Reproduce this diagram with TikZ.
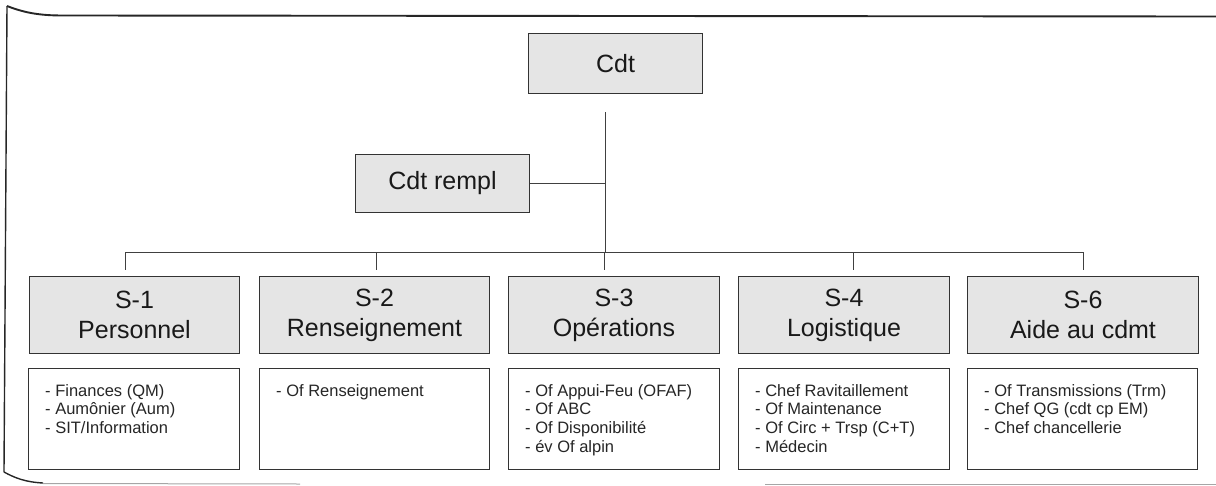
\documentclass[tikz,border=0pt]{standalone}
\usepackage{fontspec}
\setmainfont{Liberation Sans}
\begin{document}
\begin{tikzpicture}[x=1pt,y=-1pt,
  hdr/.style={draw=black!80, line width=1pt, fill=black!10, anchor=north west, inner sep=0pt, align=center, font=\fontsize{25}{30}\selectfont, text=black!90},
  subbox/.style={draw=black!80, line width=1pt, fill=white, anchor=north west, inner sep=0pt},
  subtext/.style={anchor=north west, inner sep=0pt, align=left, font=\fontsize{16.5}{18.7}\selectfont, text=black!85},
  conn/.style={draw=black!75, line width=0.8pt},
  frame/.style={draw=black!85, line width=1.4pt},
  faint/.style={draw=black!35, line width=1pt}]
\useasboundingbox (0,0) rectangle (1216,485);

% frame
\draw[frame] (4,472) -- (7,6);
\draw[frame, line width=1.9pt] (7,6) .. controls (25,13) and (40,15.5) .. (63,15.5) -- (1216,16.5);
\draw[frame, line width=1.4pt] (4,472) .. controls (15,478) and (25,482) .. (43,483);
\draw[faint] (43,483.5) -- (300,484);
\draw[faint] (765,484) -- (1216,484);

% top
\node[hdr, minimum width=174pt, minimum height=60pt] (cdt) at (528,33) {Cdt};
\node[hdr, minimum width=174pt, minimum height=58pt] (rempl) at (355,154) {Cdt rempl};

% headers
\node[hdr, minimum width=210pt, minimum height=77pt] (s1) at (29,276) {S-1\\Personnel};
\node[hdr, minimum width=230pt, minimum height=77pt] (s2) at (259,276) {S-2\\Renseignement};
\node[hdr, minimum width=211pt, minimum height=77pt] (s3) at (508,276) {S-3\\Opérations};
\node[hdr, minimum width=211pt, minimum height=77pt] (s4) at (738,276) {S-4\\Logistique};
\node[hdr, minimum width=231pt, minimum height=77pt] (s6) at (967,276) {S-6\\Aide au cdmt};

% sub boxes
\node[subbox, minimum width=211pt, minimum height=101pt] (s1b) at (28,368) {};
\node[subbox, minimum width=230pt, minimum height=101pt] (s2b) at (259,368) {};
\node[subbox, minimum width=211pt, minimum height=101pt] (s3b) at (508,368) {};
\node[subbox, minimum width=211pt, minimum height=101pt] (s4b) at (738,368) {};
\node[subbox, minimum width=230pt, minimum height=101pt] (s6b) at (967,368) {};

\node[subtext] (t1) at ([shift={(17,16)}]s1b.north west) {- Finances (QM)\\- Aumônier (Aum)\\- SIT/Information};
\node[subtext] (t2) at ([shift={(17,16)}]s2b.north west) {- Of Renseignement};
\node[subtext] (t3) at ([shift={(17,16)}]s3b.north west) {- Of Appui-Feu (OFAF)\\- Of ABC\\- Of Disponibilité\\- év Of alpin};
\node[subtext] (t4) at ([shift={(17,16)}]s4b.north west) {- Chef Ravitaillement\\- Of Maintenance\\- Of Circ + Trsp (C+T)\\- Médecin};
\node[subtext] (t6) at ([shift={(17,16)}]s6b.north west) {- Of Transmissions (Trm)\\- Chef QG (cdt cp EM)\\- Chef chancellerie};

% connectors
\coordinate (bus) at (605,252);
\draw[conn, shorten <=18pt] (cdt.south -| bus) -- (bus);
\draw[conn] (rempl.east) -- (rempl.east -| bus);
\coordinate (b1) at (125,252);
\coordinate (b2) at (376,252);
\coordinate (b3) at (604,252);
\coordinate (b4) at (853,252);
\coordinate (b5) at (1083,252);
\draw[conn] (b1) -- (b5);
\draw[conn, shorten >=6pt] (b1) -- (b1 |- s1.north);
\draw[conn, shorten >=6pt] (b2) -- (b2 |- s2.north);
\draw[conn, shorten >=6pt] (b3) -- (b3 |- s3.north);
\draw[conn, shorten >=6pt] (b4) -- (b4 |- s4.north);
\draw[conn, shorten >=6pt] (b5) -- (b5 |- s6.north);
\end{tikzpicture}
\end{document}
